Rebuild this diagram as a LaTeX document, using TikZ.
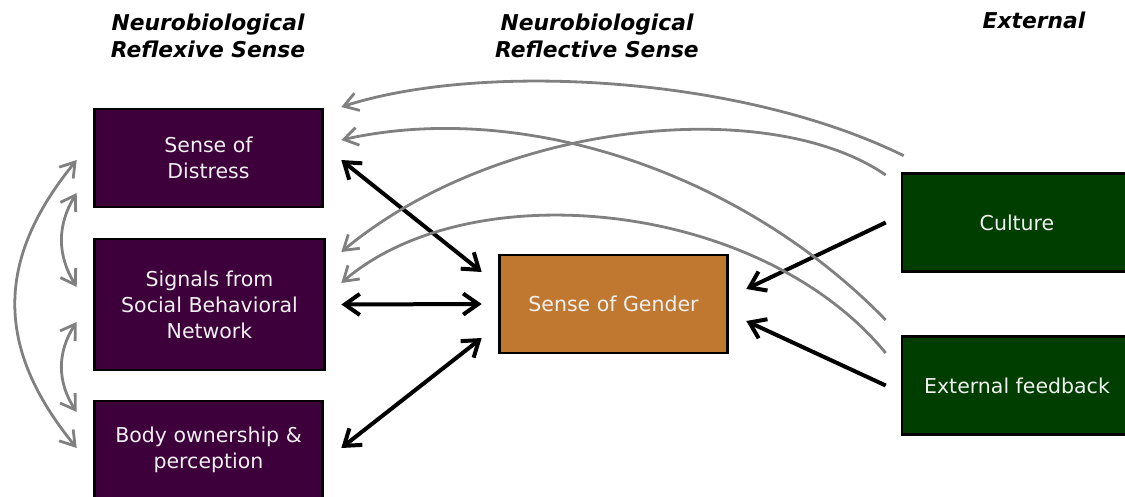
\documentclass[tikz,border=0pt]{standalone}
\usepackage{fontspec}
\setmainfont{DejaVu Sans}
\usepackage{xcolor}
\usetikzlibrary{arrows.meta}
\definecolor{reflexpurple}{RGB}{61,0,58}
\definecolor{gendorange}{RGB}{192,120,48}
\definecolor{extgreen}{RGB}{0,62,0}

\begin{document}
\begin{tikzpicture}[x=1pt, y=-1pt,
	box/.style={draw=black, line width=2.6pt, minimum width=228pt, minimum height=98pt, inner sep=0pt, align=center, text=white!94!black, font=\fontsize{20.5}{26}\selectfont},
	head/.style={align=center, inner sep=0pt, font=\fontsize{21.8}{27}\selectfont\bfseries\itshape},
	blk/.style={line width=4pt, {Straight Barb[length=15pt,width=21pt]}-{Straight Barb[length=15pt,width=21pt]}},
	blkone/.style={line width=4pt, -{Straight Barb[length=15pt,width=21pt]}},
	gry/.style={line width=2.8pt, gray, -{Straight Barb[length=14pt,width=18pt]}},
	grytwo/.style={line width=2.8pt, gray, {Straight Barb[length=14pt,width=18pt]}-{Straight Barb[length=14pt,width=18pt]}}]
	\useasboundingbox (0,0) rectangle (1125,496);
	\clip (0,0) rectangle (1125,496);

	\node[head] (hreflex) at (208,36) {Neurobiological\\Reflexive Sense};
	\node[head] (hreflect) at (597,36) {Neurobiological\\Reflective Sense};
	\node[head] (hext) at (1034,20) {External};

	\node[box, fill=reflexpurple] (dis) at (208.5,158) {Sense of\\Distress};
	\node[box, fill=reflexpurple, minimum width=230pt, minimum height=131pt] (sig) at (209.5,304.5) {Signals from\\Social Behavioral\\Network};
	\node[box, fill=reflexpurple] (bod) at (208.5,450) {Body ownership \&\\perception};
	\node[box, fill=gendorange] (gen) at (613.5,304) {Sense of Gender};
	\node[box, fill=extgreen, minimum width=230pt] (cul) at (1017,222.5) {Culture};
	\node[box, fill=extgreen, minimum width=230pt] (fdb) at (1017,385.5) {External feedback};

	\draw[blk] ([xshift=17.5pt,yshift=-2pt]dis.east) -- ([xshift=-16.5pt,yshift=32pt]gen.west);
	\draw[blk] ([xshift=15.5pt]sig.east) -- ([xshift=-16.5pt]gen.west);
	\draw[blk] ([xshift=17.5pt,yshift=2pt]bod.east) -- ([xshift=-16.5pt,yshift=-34pt]gen.west);
	\draw[blkone] ([xshift=-15pt]cul.west) -- ([xshift=17.5pt,yshift=15pt]gen.east);
	\draw[blkone] ([xshift=-15pt]fdb.west) -- ([xshift=17.5pt,yshift=-17pt]gen.east);

	\draw[gry] ([xshift=3pt,yshift=16.5pt]cul.north west) .. controls (740,75) and (480,62) .. ([xshift=17.5pt,yshift=51pt]dis.east);
	\draw[gry] ([xshift=-15pt,yshift=47.5pt]cul.west) .. controls (770,95) and (500,120) .. ([xshift=15.5pt,yshift=52.5pt]sig.east);
	\draw[gry] ([xshift=-15pt,yshift=65.5pt]fdb.west) .. controls (740,170) and (520,100) .. ([xshift=17.5pt,yshift=18pt]dis.east);
	\draw[gry] ([xshift=-15pt,yshift=32.5pt]fdb.west) .. controls (760,200) and (470,172) .. ([xshift=15.5pt,yshift=21.5pt]sig.east);

	\draw[grytwo] ([xshift=-16.5pt,yshift=-2pt]dis.west) .. controls (-5,260) and (-5,348) .. ([xshift=-16.5pt,yshift=2pt]bod.west);
	\draw[grytwo] ([xshift=-16.5pt,yshift=-35pt]dis.west) .. controls (57,225) and (57,255) .. ([xshift=-16.5pt,yshift=17.5pt]sig.west);
	\draw[grytwo] ([xshift=-16.5pt,yshift=-17.5pt]sig.west) .. controls (57,352) and (57,382) .. ([xshift=-16.5pt,yshift=38pt]bod.west);
\end{tikzpicture}
\end{document}
